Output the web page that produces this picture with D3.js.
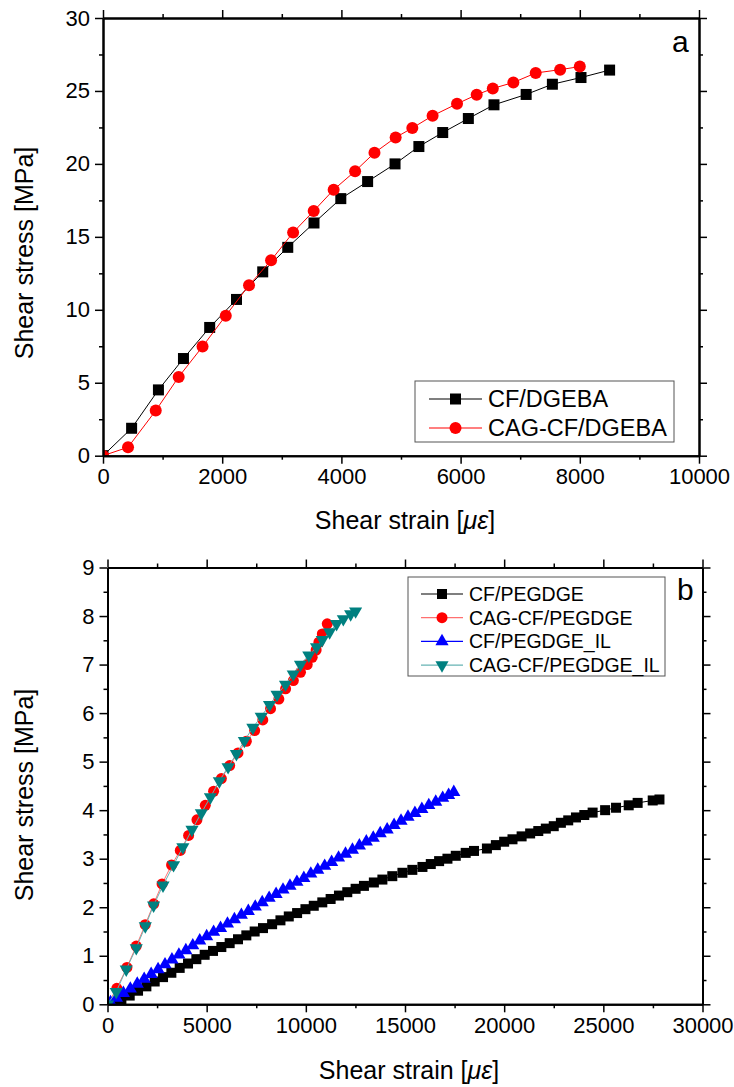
<!DOCTYPE html>
<html>
<head>
<meta charset="utf-8">
<script src="https://cdn.jsdelivr.net/npm/d3@7"></script>
<style>
  body { margin: 0; background: #fff; }
  svg { font-family: "Liberation Sans", Arial, sans-serif; }
</style>
</head>
<body>
<svg id="chart" width="734" height="1087"></svg>
<script>
// ---- panel a data (Shear strain in µε, Shear stress in MPa)
const cfDgebaStrain = [0, 480, 930, 1350, 1790, 2240, 2680, 3100, 3540, 3990, 4440, 4900, 5300, 5700, 6130, 6560, 7100, 7540, 8020, 8500];
const cfDgebaStress = [0, 1.88, 4.51, 6.66, 8.79, 10.71, 12.6, 14.28, 15.95, 17.62, 18.79, 20.0, 21.19, 22.15, 23.11, 24.05, 24.76, 25.46, 25.92, 26.43];
const cagDgebaStrain = [0, 420, 885, 1270, 1670, 2060, 2450, 2820, 3190, 3535, 3870, 4230, 4555, 4910, 5190, 5530, 5940, 6270, 6540, 6885, 7260, 7670, 8000];
const cagDgebaStress = [0, 0.58, 3.09, 5.4, 7.48, 9.6, 11.68, 13.39, 15.3, 16.77, 18.23, 19.5, 20.76, 21.81, 22.46, 23.3, 24.12, 24.74, 25.17, 25.58, 26.23, 26.46, 26.67];

// ---- panel b data
const cfPegStrain = [0, 350, 700, 1120, 1540, 1960, 2380, 2800, 3220, 3640, 4060, 4480, 4900, 5320, 5740, 6160, 6580, 7000, 7420, 7840, 8300, 8720, 9140, 9560, 9980, 10400, 10830, 11250, 11670, 12090, 12510, 12930, 13430, 13860, 14360, 14870, 15370, 15880, 16300, 16720, 17140, 17560, 18060, 18480, 19130, 19580, 20000, 20420, 20880, 21310, 21720, 22100, 22500, 22860, 23230, 23620, 24040, 24460, 25090, 25640, 26280, 26730, 27490, 27830];
const cfPegStress = [0, 0.02, 0.09, 0.18, 0.28, 0.37, 0.47, 0.56, 0.65, 0.75, 0.84, 0.93, 1.02, 1.1, 1.18, 1.26, 1.34, 1.42, 1.5, 1.57, 1.65, 1.73, 1.81, 1.88, 1.96, 2.03, 2.1, 2.17, 2.24, 2.31, 2.38, 2.44, 2.51, 2.57, 2.64, 2.71, 2.77, 2.83, 2.89, 2.95, 3.0, 3.06, 3.12, 3.16, 3.21, 3.28, 3.35, 3.4, 3.46, 3.52, 3.57, 3.62, 3.67, 3.74, 3.79, 3.85, 3.9, 3.95, 4.0, 4.05, 4.1, 4.15, 4.2, 4.22];
const cagPegStrain = [0, 470, 980, 1450, 1900, 2330, 2750, 3230, 3670, 4090, 4510, 4930, 5350, 5740, 6160, 6580, 7000, 7420, 7830, 8220, 8640, 8980, 9370, 9730, 10070, 10320, 10520, 10660, 10830, 11080];
const cagPegStress = [0, 0.33, 0.76, 1.2, 1.64, 2.07, 2.48, 2.87, 3.17, 3.48, 3.8, 4.1, 4.39, 4.65, 4.92, 5.18, 5.42, 5.64, 5.86, 6.09, 6.29, 6.5, 6.67, 6.84, 7.0, 7.15, 7.3, 7.46, 7.63, 7.84];
const cfPegIlStrain = [0, 150, 450, 800, 1150, 1500, 1850, 2200, 2550, 2900, 3250, 3600, 3950, 4300, 4650, 5000, 5350, 5700, 6050, 6400, 6750, 7100, 7450, 7800, 8150, 8500, 8850, 9200, 9550, 9900, 10250, 10600, 10950, 11300, 11650, 12000, 12350, 12700, 13050, 13400, 13750, 14100, 14450, 14800, 15150, 15500, 15850, 16200, 16550, 16900, 17200, 17460];
const cfPegIlStress = [0, 0.04, 0.13, 0.23, 0.32, 0.42, 0.52, 0.62, 0.72, 0.82, 0.92, 1.02, 1.11, 1.21, 1.31, 1.4, 1.49, 1.57, 1.66, 1.75, 1.84, 1.92, 2.01, 2.1, 2.19, 2.27, 2.36, 2.44, 2.52, 2.6, 2.69, 2.77, 2.85, 2.93, 3.02, 3.1, 3.18, 3.27, 3.35, 3.43, 3.52, 3.6, 3.69, 3.78, 3.86, 3.94, 4.02, 4.1, 4.17, 4.25, 4.31, 4.37];
const cagPegIlStrain = [0, 440, 945, 1450, 1905, 2325, 2800, 3330, 3800, 4260, 4730, 5190, 5640, 6080, 6500, 6900, 7330, 7750, 8170, 8550, 8975, 9365, 9730, 10150, 10540, 10830, 11200, 11550, 11890, 12260, 12510];
const cagPegIlStress = [0, 0.26, 0.72, 1.16, 1.61, 2.04, 2.45, 2.87, 3.24, 3.6, 3.94, 4.27, 4.6, 4.89, 5.16, 5.43, 5.7, 5.93, 6.17, 6.38, 6.59, 6.8, 7.0, 7.19, 7.36, 7.51, 7.67, 7.84, 7.94, 8.04, 8.1];

// ---- ticks
const aXTicks = [0, 2000, 4000, 6000, 8000, 10000];
const aXMinor = [1000, 3000, 5000, 7000, 9000];
const aYTicks = [0, 5, 10, 15, 20, 25, 30];
const aYMinor = [2.5, 7.5, 12.5, 17.5, 22.5, 27.5];
const bXTicks = [0, 5000, 10000, 15000, 20000, 25000, 30000];
const bXMinor = [2500, 7500, 12500, 17500, 22500, 27500];
const bYTicks = [0, 1, 2, 3, 4, 5, 6, 7, 8, 9];
const bYMinor = [0.5, 1.5, 2.5, 3.5, 4.5, 5.5, 6.5, 7.5, 8.5];

const zip = (xs, ys) => xs.map((x, i) => [x, ys[i]]);

const svg = d3.select("#chart");

function drawPanel(svg, o) {
    const x = d3.scaleLinear().domain(o.xDomain).range([o.left, o.right]);
    const y = d3.scaleLinear().domain(o.yDomain).range([o.bottom, o.top]);
    const g = svg.append("g");

    g.append("clipPath").attr("id", o.id + "-clip")
        .append("rect")
        .attr("x", o.left).attr("y", o.top)
        .attr("width", o.right - o.left).attr("height", o.bottom - o.top);

    const plot = g.append("g").attr("clip-path", `url(#${o.id}-clip)`);

    o.series.forEach(s => {
        const pts = zip(s.xs, s.ys);
        plot.append("path")
            .datum(pts)
            .attr("fill", "none")
            .attr("stroke", s.line)
            .attr("stroke-width", 1)
            .attr("d", d3.line().x(d => x(d[0])).y(d => y(d[1])));
        drawMarkers(plot, pts.map(d => [x(d[0]), y(d[1])]), s, o.msize);
    });

    // minor ticks
    const minor = (axis, vals) => axis.tickValues(vals).tickSize(4).tickFormat("").tickSizeOuter(0);
    g.append("g").attr("transform", `translate(0,${o.bottom})`).call(minor(d3.axisBottom(x), o.xMinor));
    g.append("g").attr("transform", `translate(0,${o.top})`).call(minor(d3.axisTop(x), o.xMinor));
    g.append("g").attr("transform", `translate(${o.left},0)`).call(minor(d3.axisLeft(y), o.yMinor));
    g.append("g").attr("transform", `translate(${o.right},0)`).call(minor(d3.axisRight(y), o.yMinor));

    // major ticks
    g.append("g").attr("class", "lbl").attr("transform", `translate(0,${o.bottom})`)
        .call(d3.axisBottom(x).tickValues(o.xTicks).tickSize(8).tickPadding(5).tickSizeOuter(0).tickFormat(d3.format("d")));
    g.append("g").attr("transform", `translate(0,${o.top})`)
        .call(d3.axisTop(x).tickValues(o.xTicks).tickSize(8).tickFormat("").tickSizeOuter(0));
    g.append("g").attr("class", "lbl").attr("transform", `translate(${o.left},0)`)
        .call(d3.axisLeft(y).tickValues(o.yTicks).tickSize(8).tickPadding(5).tickSizeOuter(0).tickFormat(d3.format("d")));
    g.append("g").attr("transform", `translate(${o.right},0)`)
        .call(d3.axisRight(y).tickValues(o.yTicks).tickSize(8).tickFormat("").tickSizeOuter(0));

    g.selectAll(".domain").attr("stroke", "#000").attr("stroke-width", 2);
    g.selectAll(".tick line").attr("stroke", "#000").attr("stroke-width", 1.5);
    g.selectAll(".lbl text").attr("font-size", 22).attr("fill", "#000")
        .attr("font-family", "'Liberation Sans', Arial, sans-serif");

    // axis titles
    const xt = g.append("text")
        .attr("x", (o.left + o.right) / 2 + 4).attr("y", o.xTitleY)
        .attr("text-anchor", "middle").attr("font-size", 25).attr("font-weight", "normal");
    xt.append("tspan").text("Shear strain [");
    xt.append("tspan").attr("font-style", "italic").text("με");
    xt.append("tspan").text("]");

    g.append("text")
        .attr("transform", `translate(33,${o.yTitleY}) rotate(-90)`)
        .attr("text-anchor", "middle").attr("font-size", 25).attr("font-weight", "normal")
        .text("Shear stress [MPa]");

    g.append("text")
        .attr("x", o.letterX).attr("y", o.letterY)
        .attr("font-size", 30).text(o.letter);

    // legend
    const L = o.legend;
    const lg = g.append("g");
    lg.append("rect")
        .attr("x", L.x).attr("y", L.y).attr("width", L.w).attr("height", L.h)
        .attr("fill", "#fff").attr("stroke", "#555").attr("stroke-width", 1);
    o.series.forEach((s, i) => {
        const ry = L.y + L.first + i * L.step;
        lg.append("line")
            .attr("x1", L.x + L.lineX0).attr("x2", L.x + L.lineX1)
            .attr("y1", ry).attr("y2", ry)
            .attr("stroke", s.line).attr("stroke-width", 1.2);
        drawMarkers(lg, [[L.x + (L.lineX0 + L.lineX1) / 2, ry]], s, o.msize);
        lg.append("text")
            .attr("x", L.x + L.textX).attr("y", ry)
            .attr("dy", "0.36em")
            .attr("font-size", L.font)
            .text(s.name);
    });
}

function drawMarkers(sel, pts, s, size) {
    if (s.shape === "square") {
        sel.selectAll(null).data(pts).enter().append("rect")
            .attr("x", d => d[0] - size / 2).attr("y", d => d[1] - size / 2)
            .attr("width", size).attr("height", size)
            .attr("fill", s.color);
    } else if (s.shape === "circle") {
        sel.selectAll(null).data(pts).enter().append("circle")
            .attr("cx", d => d[0]).attr("cy", d => d[1])
            .attr("r", size / 2 + 0.5)
            .attr("fill", s.color);
    } else {
        const sym = d3.symbol(d3.symbolTriangle).size(size * size * 0.75);
        sel.selectAll(null).data(pts).enter().append("path")
            .attr("d", sym)
            .attr("transform", d => `translate(${d[0]},${d[1]})` + (s.shape === "down" ? " rotate(180)" : ""))
            .attr("fill", s.color);
    }
}

drawPanel(svg, {
    id: "pa",
    left: 103, right: 699, top: 18, bottom: 455.7,
    xDomain: [0, 10000], yDomain: [0, 30],
    xTicks: aXTicks, xMinor: aXMinor, yTicks: aYTicks, yMinor: aYMinor,
    xTitleY: 529, yTitleY: 253,
    letter: "a", letterX: 672, letterY: 52,
    msize: 11,
    series: [
        { name: "CF/DGEBA", xs: cfDgebaStrain, ys: cfDgebaStress, shape: "square", color: "#000", line: "#000" },
        { name: "CAG-CF/DGEBA", xs: cagDgebaStrain, ys: cagDgebaStress, shape: "circle", color: "#ff0000", line: "#ff0000" }
    ],
    legend: { x: 415, y: 381, w: 259, h: 61, first: 18, step: 29, lineX0: 14, lineX1: 67, textX: 73, font: 23.5 }
});

drawPanel(svg, {
    id: "pb",
    left: 107.5, right: 702.5, top: 567.5, bottom: 1004.3,
    xDomain: [0, 30000], yDomain: [0, 9],
    xTicks: bXTicks, xMinor: bXMinor, yTicks: bYTicks, yMinor: bYMinor,
    xTitleY: 1079, yTitleY: 795,
    letter: "b", letterX: 677, letterY: 600,
    msize: 10,
    series: [
        { name: "CF/PEGDGE", xs: cfPegStrain, ys: cfPegStress, shape: "square", color: "#000", line: "#000" },
        { name: "CAG-CF/PEGDGE", xs: cagPegStrain, ys: cagPegStress, shape: "circle", color: "#ff0000", line: "#ff7070" },
        { name: "CF/PEGDGE_IL", xs: cfPegIlStrain, ys: cfPegIlStress, shape: "up", color: "#0000ff", line: "#0000ff" },
        { name: "CAG-CF/PEGDGE_IL", xs: cagPegIlStrain, ys: cagPegIlStress, shape: "down", color: "#008080", line: "#66b3b3" }
    ],
    legend: { x: 408, y: 577, w: 257, h: 99, first: 17, step: 23.7, lineX0: 13, lineX1: 55, textX: 61, font: 19.5 }
});
</script>
</body>
</html>
